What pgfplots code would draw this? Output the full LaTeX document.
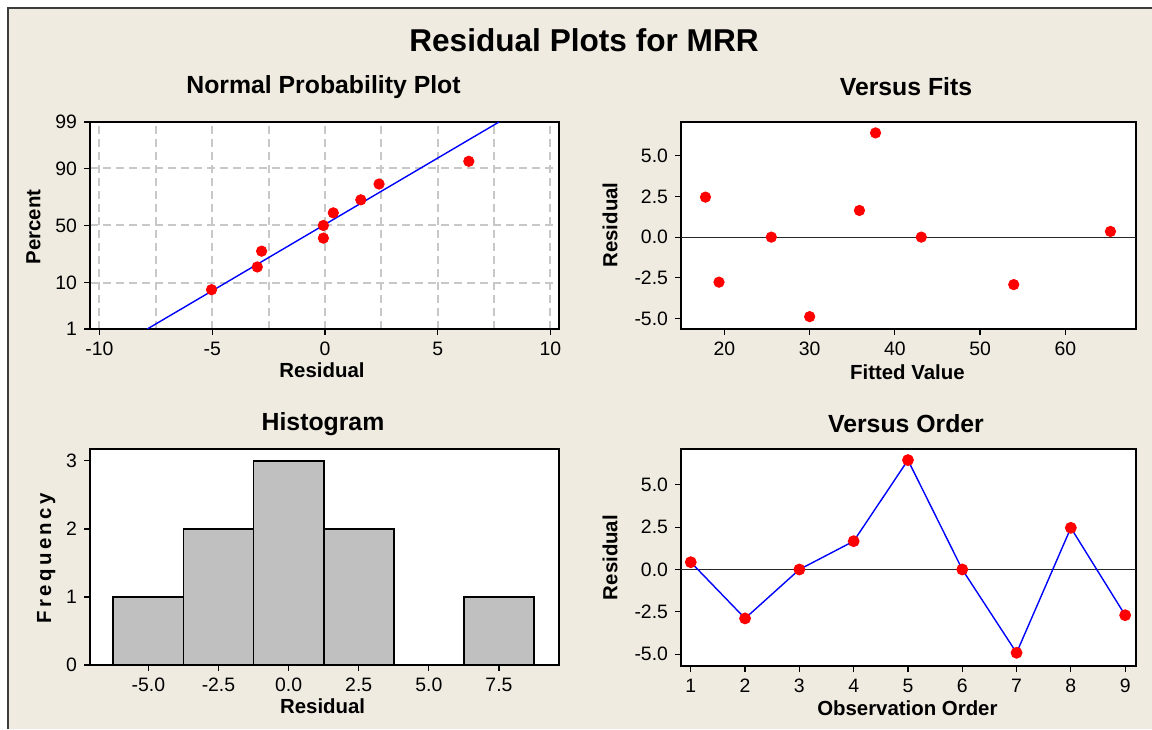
\documentclass[border=0pt]{standalone}
\usepackage{fontspec}
\setmainfont{Liberation Sans}
\usepackage{pgfplots}
\pgfplotsset{compat=1.18}
\definecolor{bg}{RGB}{239,235,225}
\definecolor{gridgray}{RGB}{200,200,200}
\definecolor{histgray}{RGB}{192,192,192}
\definecolor{framegray}{RGB}{60,60,60}
\pgfplotsset{
  mtb/.style={
    scale only axis, anchor=south west,
    axis background/.style={fill=white},
    axis line style={line width=1pt, black},
    tick align=outside,
    tick pos=left,
    major tick length=3pt,
    minor tick length=0pt,
    tick style={black, line width=0.6pt},
    tick label style={font=\fontsize{9.7}{11}\selectfont, text=black},
    /pgf/number format/assume math mode=true,
  },
}
\newcommand{\tfont}{\fontsize{15.8}{18}\selectfont\bfseries}
\newcommand{\sfont}{\fontsize{12.4}{14}\selectfont\bfseries}
\newcommand{\lfont}{\fontsize{10.2}{12}\selectfont\bfseries}
\begin{document}
\begin{tikzpicture}
\useasboundingbox (0,0) rectangle (576pt,364.5pt);
\fill[white] (0,0) rectangle (576pt,364.5pt);
\fill[bg] (4pt,0) rectangle (576pt,360.5pt);
\draw[framegray, line width=1.2pt] (4pt,0) -- (4pt,360.5pt) -- (576pt,360.5pt);

% Titles
\node at (292pt,344.5pt) {\tfont Residual Plots for MRR};
\node at (161.75pt,321pt) {\sfont Normal Probability Plot};
\node at (453pt,321pt) {\sfont Versus Fits};
\node at (161.5pt,152.5pt) {\sfont Histogram};
\node at (453pt,152.5pt) {\sfont Versus Order};

% Axis labels
\node at (161pt,179.5pt) {\lfont Residual};
\node[rotate=90] at (16.75pt,251pt) {\lfont Percent};
\node at (453.7pt,178.6pt) {\lfont Fitted Value};
\node[rotate=90] at (305pt,252pt) {\lfont Residual};
\node at (161.3pt,11.2pt) {\lfont Residual};
\node[rotate=90] at (23.1pt,85.3pt) {\lfont F\,r\,e\,q\,u\,e\,n\,c\,y};
\node at (453.7pt,10.5pt) {\lfont Observation Order};
\node[rotate=90] at (305pt,85.75pt) {\lfont Residual};

% Normal probability plot
\begin{axis}[mtb, at={(45pt,200pt)}, width=234.5pt, height=103.5pt,
  xmin=-10.42, xmax=10.38, ymin=-2.3263, ymax=2.3263,
  xtick={-10,-5,0,5,10}, xticklabels={-10,-5,0,5,10},
  minor xtick={-7.5,-2.5,2.5,7.5},
  ytick={-2.3263,-1.2816,0,1.2816,2.3263}, yticklabels={1,10,50,90,99},
  xmajorgrids, xminorgrids, ymajorgrids,
  major grid style={gridgray, line width=1pt, dash pattern=on 4pt off 2.5pt},
  minor grid style={gridgray, line width=1pt, dash pattern=on 4pt off 2.5pt},
]
\addplot[blue, line width=0.7pt] coordinates {(-7.88,-2.3263) (7.72,2.3263)};
\addplot[only marks, mark=*, mark size=2.6pt, red] coordinates {
(-5.03,-1.443) (-3.00,-0.932) (-2.81,-0.577) (-0.07,-0.284) (-0.07,0)
(0.37,0.284) (1.59,0.577) (2.40,0.932) (6.38,1.443)};
\end{axis}

% Versus fits
\begin{axis}[mtb, at={(340.5pt,200pt)}, width=227.5pt, height=103.5pt,
  xmin=14.9, xmax=68.3, ymin=-5.65, ymax=7.08,
  xtick={20,30,40,50,60}, xticklabels={20,30,40,50,60},
  ytick={-5,-2.5,0,2.5,5}, yticklabels={-5.0,-2.5,0.0,2.5,5.0},
]
\addplot[black!85, line width=0.6pt] coordinates {(14.9,0) (68.3,0)};
\addplot[only marks, mark=*, mark size=2.6pt, red] coordinates {
(17.77,2.46) (19.36,-2.77) (25.5,0) (30.0,-4.89) (35.84,1.64)
(37.73,6.41) (43.1,0) (53.95,-2.92) (65.3,0.35)};
\end{axis}

% Histogram
\begin{axis}[mtb, at={(45pt,32pt)}, width=234.5pt, height=107.85pt,
  xmin=-7.08, xmax=9.64, ymin=0, ymax=3.17,
  xtick={-5,-2.5,0,2.5,5,7.5}, xticklabels={-5.0,-2.5,0.0,2.5,5.0,7.5},
  ytick={0,1,2,3}, yticklabels={0,1,2,3},
  ybar, bar width=2.5,
]
\addplot[fill=histgray, draw=black, line width=0.9pt] coordinates {
(-5,1) (-2.5,2) (0,3) (2.5,2) (5,0) (7.5,1)};
\end{axis}

% Versus order
\begin{axis}[mtb, at={(340.5pt,31.5pt)}, width=227.5pt, height=108.3pt,
  xmin=0.82, xmax=9.2, ymin=-5.7, ymax=7.09,
  xtick={1,2,...,9}, xticklabels={1,2,3,4,5,6,7,8,9},
  ytick={-5,-2.5,0,2.5,5}, yticklabels={-5.0,-2.5,0.0,2.5,5.0},
]
\addplot[black!85, line width=0.6pt] coordinates {(0.82,0) (9.2,0)};
\addplot[blue, line width=0.7pt, mark=*, mark size=2.6pt,
  mark options={fill=red, draw=red}] coordinates {
(1,0.43) (2,-2.89) (3,0) (4,1.67) (5,6.46) (6,0) (7,-4.92) (8,2.46) (9,-2.70)};
\end{axis}
\end{tikzpicture}
\end{document}
